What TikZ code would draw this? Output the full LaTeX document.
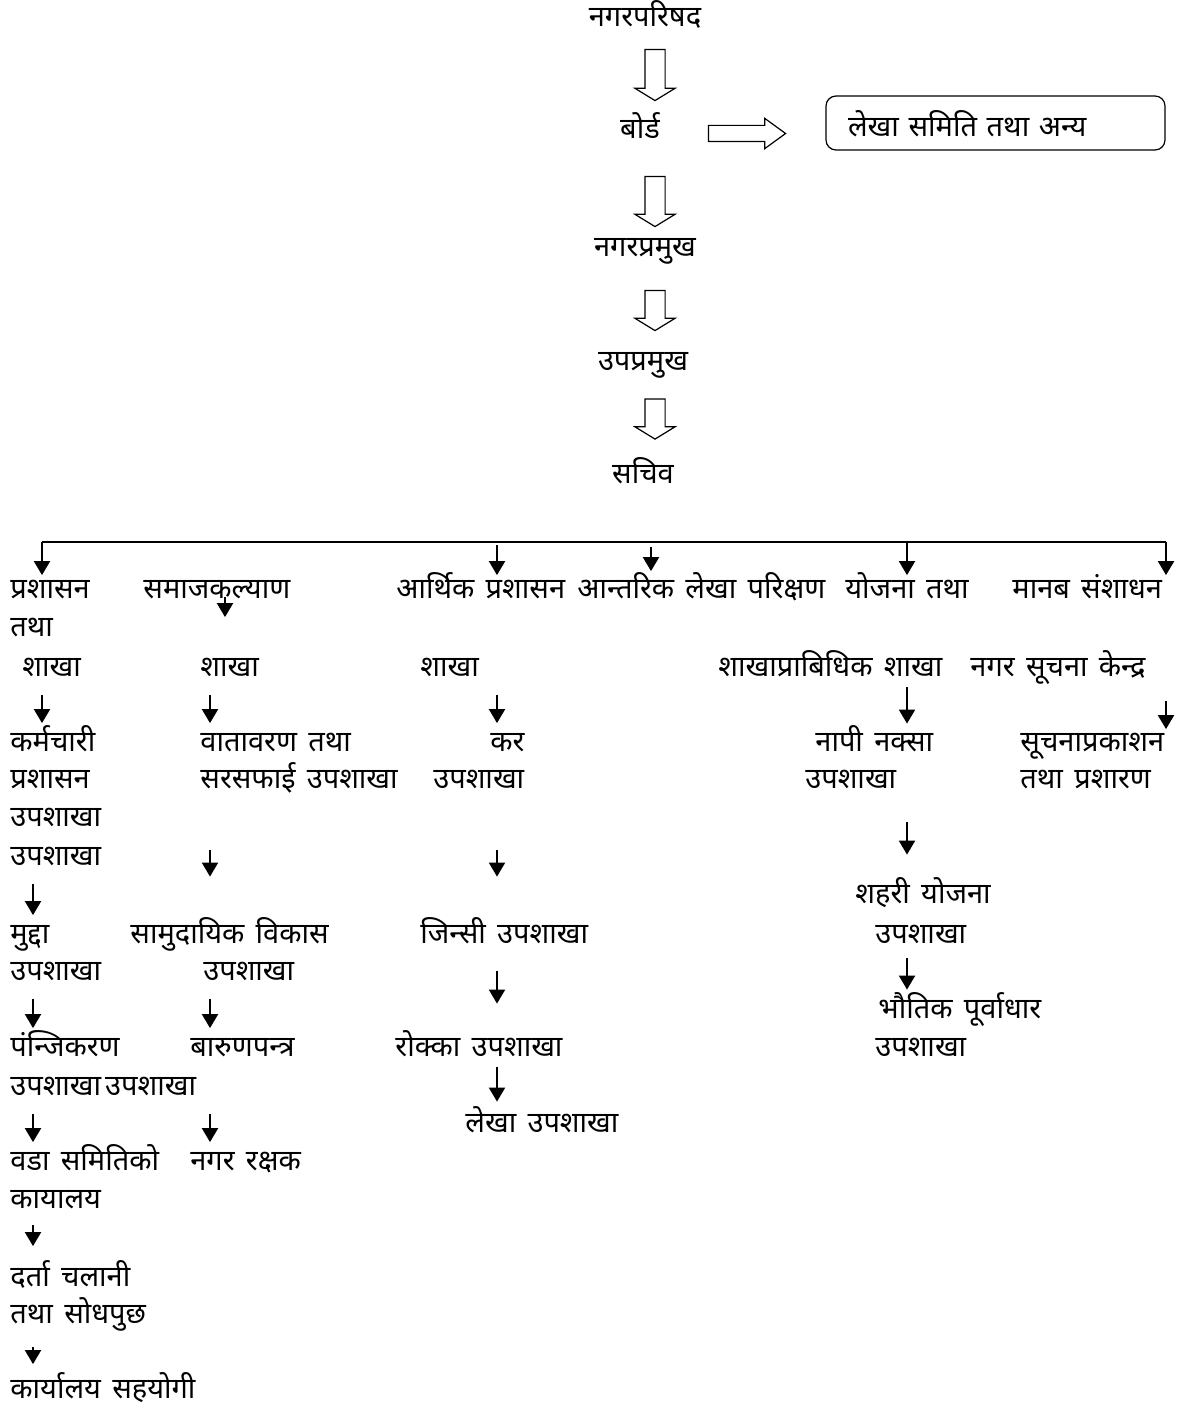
\documentclass[tikz,border=0pt]{standalone}
\usepackage{fontspec}
\newfontfamily\devfont[Script=Devanagari,WordSpace=1.5]{Noto Sans}
\usepackage{tikz}
\usetikzlibrary{positioning}
\usetikzlibrary{arrows.meta,shapes.arrows}
\tikzset{
  lbl/.style={anchor=west,inner sep=0,text height=10.5pt,text depth=2pt,font={\devfont\fontsize{14.5}{17}\selectfont}},
  ttl/.style={lbl,anchor=center},
  blk/.style={draw,single arrow,inner xsep=0,inner ysep=4.75pt,single arrow head extend=5pt,single arrow tip angle=117,line width=0.6pt},
  arr/.style={-{Triangle[width=8pt,length=7pt]},line width=1pt,shorten <=7pt,shorten >=3.5pt},
  tarr/.style={arr,shorten <=0pt,shorten >=1pt},
}
\begin{document}
\begin{tikzpicture}[x=0.5pt,y=-0.5pt]
\useasboundingbox (0,0) rectangle (1180,1407);
%top of the chart
\node (np) at (645,18) [ttl] {नगरपरिषद};
\node (bd) at (640,130) [ttl] {बोर्ड};
\node (nprm) at (645,248) [ttl] {नगरप्रमुख};
\node (uprm) at (643,362) [ttl] {उपप्रमुख};
\node (sciv) at (643,475) [ttl] {सचिव};
\node (lsta) at (995.5,123) [lbl,anchor=center,draw,rounded corners=5pt,line width=0.6pt,inner xsep=11pt,text width=147.5pt,align=left,text height=13.4pt,text depth=0pt,minimum height=27pt] {लेखा समिति तथा अन्य};

%block arrows
\node (ba1) at (655,72) [blk,rotate=-90,minimum height=25.5pt] {};
\node (ba2) at (655,198.5) [blk,rotate=-90,minimum height=25pt] {};
\node (ba3) at (655,307.5) [blk,rotate=-90,minimum height=20pt] {};
\node (ba4) at (655,416) [blk,rotate=-90,minimum height=20pt] {};
\node (bh) at (741.5,133.5) [blk,inner ysep=3.75pt,single arrow head extend=3.5pt,single arrow tip angle=72,minimum height=38.5pt] {};

%branches
\node (pr1) at (10,590) [lbl] {प्रशासन};
\node (pr2) at (10,628) [lbl] {तथा};
\node (pr3) at (22,668) [lbl] {शाखा};
\node (sk1) at (143,590) [lbl] {समाजकल्याण};
\node (sk2) at (200,668) [lbl] {शाखा};
\node (ar1) at (396,590) [lbl] {आर्थिक प्रशासन};
\node (ar3) at (420,668) [lbl] {शाखा};
\node (ant) at (577,590) [lbl] {आन्तरिक लेखा परिक्षण};
\node (yo1) at (845,590) [lbl] {योजना तथा};
\node (yo2) at (718,668) [lbl] {शाखाप्राबिधिक शाखा};
\node (mb1) at (1012,590) [lbl] {मानब संशाधन};
\node (ns) at (970,668) [lbl] {नगर सूचना केन्द्र};

%sub branches
\node (km1) at (10,743) [lbl] {कर्मचारी};
\node (km2) at (10,780) [lbl] {प्रशासन};
\node (km3) at (10,818) [lbl] {उपशाखा};
\node (km4) at (10,857) [lbl] {उपशाखा};
\node (md1) at (10,935) [lbl] {मुद्दा};
\node (md2) at (10,972) [lbl] {उपशाखा};
\node (pj1) at (10,1048) [lbl] {पंन्जिकरण};
\node (pj2) at (10,1087) [lbl] {उपशाखा\hspace{2pt}उपशाखा};
\node (wd1) at (10,1162) [lbl] {वडा समितिको};
\node (wd2) at (10,1200) [lbl] {कायालय};
\node (dc1) at (10,1278) [lbl] {दर्ता चलानी};
\node (dc2) at (10,1315) [lbl] {तथा सोधपुछ};
\node (ks) at (10,1390) [lbl] {कार्यालय सहयोगी};

\node (vt1) at (200,743) [lbl] {वातावरण तथा};
\node (vt2) at (200,780) [lbl] {सरसफाई उपशाखा};
\node (sm1) at (130,935) [lbl] {सामुदायिक विकास};
\node (sm2) at (203,972) [lbl] {उपशाखा};
\node (br) at (190,1048) [lbl] {बारुणपन्त्र};
\node (nr) at (190,1162) [lbl] {नगर रक्षक};

\node (kr1) at (490,743) [lbl] {कर};
\node (kr2) at (433,780) [lbl] {उपशाखा};
\node (jn) at (420,935) [lbl] {जिन्सी उपशाखा};
\node (rk) at (395,1048) [lbl] {रोक्का उपशाखा};
\node (lk) at (465,1124) [lbl] {लेखा उपशाखा};

\node (np1) at (815,743) [lbl] {नापी नक्सा};
\node (np2) at (805,780) [lbl] {उपशाखा};
\node (sh1) at (855,895) [lbl] {शहरी योजना};
\node (sh2) at (875,935) [lbl] {उपशाखा};
\node (bh1) at (878,1010) [lbl] {भौतिक पूर्वाधार};
\node (bh2) at (875,1048) [lbl] {उपशाखा};

\node (sp1) at (1020,743) [lbl] {सूचनाप्रकाशन};
\node (sp2) at (1020,780) [lbl] {तथा प्रशारण};

%columns of the small arrows
\coordinate (tl) at (42,542);
\coordinate (tr) at (1166,542);
\coordinate (cA) at (33,0);
\coordinate (cB) at (210,0);
\coordinate (cS) at (225,0);
\coordinate (cC) at (497,0);
\coordinate (cD) at (907,0);

%line over the branches
\draw [line width=1pt] (tl) -- (tr);
\draw [tarr] (tl) -- (tl |- pr1.north);
\draw [tarr,shorten <=1.5pt] (cC |- tl) -- (cC |- ar1.north);
\draw [tarr,shorten >=3pt] (ant.north -| 651,0) ++(0,-30) -- (ant.north -| 651,0);
\draw [tarr] (cD |- tl) -- (cD |- yo1.north);
\draw [tarr] (tr) -- (tr |- mb1.north);

%chains
\draw [arr,shorten <=3.5pt,shorten >=19pt] (cS |- sk1.center) -- (cS |- sk2.north);
\draw [arr] (tl |- pr3.south) -- (tl |- km1.north);
\foreach \a/\b in {km4/md1,md2/pj1,pj2/wd1}{
    \draw [arr] (cA |- \a.south) -- (cA |- \b.north);
}
\draw [arr,shorten <=6pt,shorten >=9.5pt] (cA |- wd2.south) -- (cA |- dc1.north);
\draw [arr,shorten <=9.5pt,shorten >=6.5pt] (cA |- dc2.south) -- (cA |- ks.north);
\foreach \a/\b in {sk2/vt1,sm2/br,pj2/nr}{
    \draw [arr] (cB |- \a.south) -- (cB |- \b.north);
}
\draw [arr,shorten <=28.5pt,shorten >=22.75pt] (cB |- vt2.south) -- (cB |- sm1.north);
\draw [arr] (cC |- ar3.south) -- (cC |- kr1.north);
\draw [arr,shorten <=28.75pt,shorten >=22.75pt] (cC |- kr2.south) -- (cC |- jn.north);
\draw [arr,shorten <=11.75pt,shorten >=15.75pt] (cC |- jn.south) -- (cC |- rk.north);
\draw [arr,shorten <=3.25pt,shorten >=4.75pt] (cC |- rk.south) -- (cC |- lk.north);
\draw [arr,shorten <=3.25pt,shorten >=3.25pt] (cD |- yo2.south) -- (cD |- np1.north);
\draw [arr,shorten <=14.75pt,shorten >=13.75pt] (cD |- np2.south) -- (cD |- sh1.north);
\draw [arr,shorten <=5.25pt,shorten >=3.75pt] (cD |- sh2.south) -- (cD |- bh1.north);
\draw [arr,shorten <=10pt,shorten >=0.5pt] (tr |- ns.south) -- (tr |- sp1.north);

\end{tikzpicture}
\end{document}
